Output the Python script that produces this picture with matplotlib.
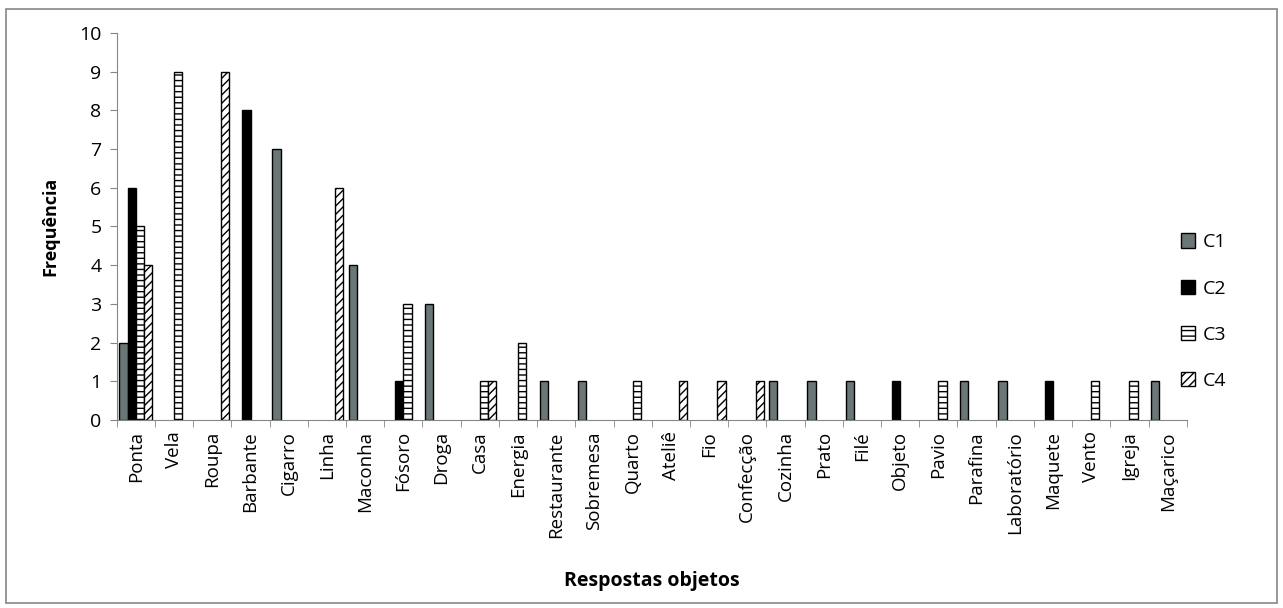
import numpy as np
import matplotlib.pyplot as plt
from matplotlib.patches import Rectangle

plt.rcParams['font.family'] = ['Open Sans', 'DejaVu Sans']
plt.rcParams['hatch.linewidth'] = 1.0

categorias = ['Ponta', 'Vela', 'Roupa', 'Barbante', 'Cigarro', 'Linha', 'Maconha',
              'Fósoro', 'Droga', 'Casa', 'Energia', 'Restaurante', 'Sobremesa',
              'Quarto', 'Ateliê', 'Fio', 'Confecção', 'Cozinha', 'Prato', 'Filé',
              'Objeto', 'Pavio', 'Parafina', 'Laboratório', 'Maquete', 'Vento',
              'Igreja', 'Maçarico']

c1 = [2, 0, 0, 0, 7, 0, 4, 0, 3, 0, 0, 1, 1, 0, 0, 0, 0, 1, 1, 1, 0, 0, 1, 1, 0, 0, 0, 1]
c2 = [6, 0, 0, 8, 0, 0, 0, 1, 0, 0, 0, 0, 0, 0, 0, 0, 0, 0, 0, 0, 1, 0, 0, 0, 1, 0, 0, 0]
c3 = [5, 9, 0, 0, 0, 0, 0, 3, 0, 1, 2, 0, 0, 1, 0, 0, 0, 0, 0, 0, 0, 1, 0, 0, 0, 1, 1, 0]
c4 = [4, 0, 9, 0, 0, 6, 0, 0, 0, 1, 0, 0, 0, 0, 1, 1, 1, 0, 0, 0, 0, 0, 0, 0, 0, 0, 0, 0]

series = ['C1', 'C2', 'C3', 'C4']
estilos = [
    dict(facecolor='#6b7777', hatch=None),
    dict(facecolor='#000000', hatch=None),
    dict(facecolor='white', hatch='---'),
    dict(facecolor='white', hatch='////'),
]

fig = plt.figure(figsize=(12.83, 6.08), dpi=100)
ax = fig.add_axes([0.091, 0.309, 0.834, 0.637])

x = np.arange(len(categorias))
w = 0.215
for i, (nome, vals, st) in enumerate(zip(series, [c1, c2, c3, c4], estilos)):
    vals = np.array(vals)
    mask = vals > 0
    ax.bar(x[mask] + (i - 1.5) * w, vals[mask], width=w, color=st['facecolor'],
           hatch=st['hatch'], edgecolor='black', linewidth=1.0, label=nome)

ax.set_xlim(-0.5, len(categorias) - 0.5)
ax.set_ylim(0, 10)
ax.set_yticks(range(0, 11))
ax.tick_params(axis='y', labelsize=14, length=5, color='#868686', pad=6)

ax.set_xticks(x)
ax.set_xticklabels(categorias, rotation=90, fontsize=13.5)
ax.tick_params(axis='x', which='major', length=0, pad=8)
ax.set_xticks(np.arange(-0.5, len(categorias)), minor=True)
ax.tick_params(axis='x', which='minor', length=5, color='#868686')

for s in ['top', 'right']:
    ax.spines[s].set_visible(False)
for s in ['left', 'bottom']:
    ax.spines[s].set_color('#868686')

ax.set_ylabel('Frequência', fontsize=13, fontweight='bold', labelpad=14)
ax.set_xlabel('Respostas objetos', fontsize=14, fontweight='bold', labelpad=24)

leg = ax.legend(loc='center left', bbox_to_anchor=(0.978, 0.28), frameon=False,
                fontsize=14, labelspacing=1.45, handlelength=0.75, handleheight=0.75,
                handletextpad=0.4)

fig.patches.append(Rectangle((0.005, 0.008), 0.99, 0.978, transform=fig.transFigure,
                             fill=False, edgecolor='#868686', linewidth=1.2))

fig.savefig('out.png', dpi=100)
